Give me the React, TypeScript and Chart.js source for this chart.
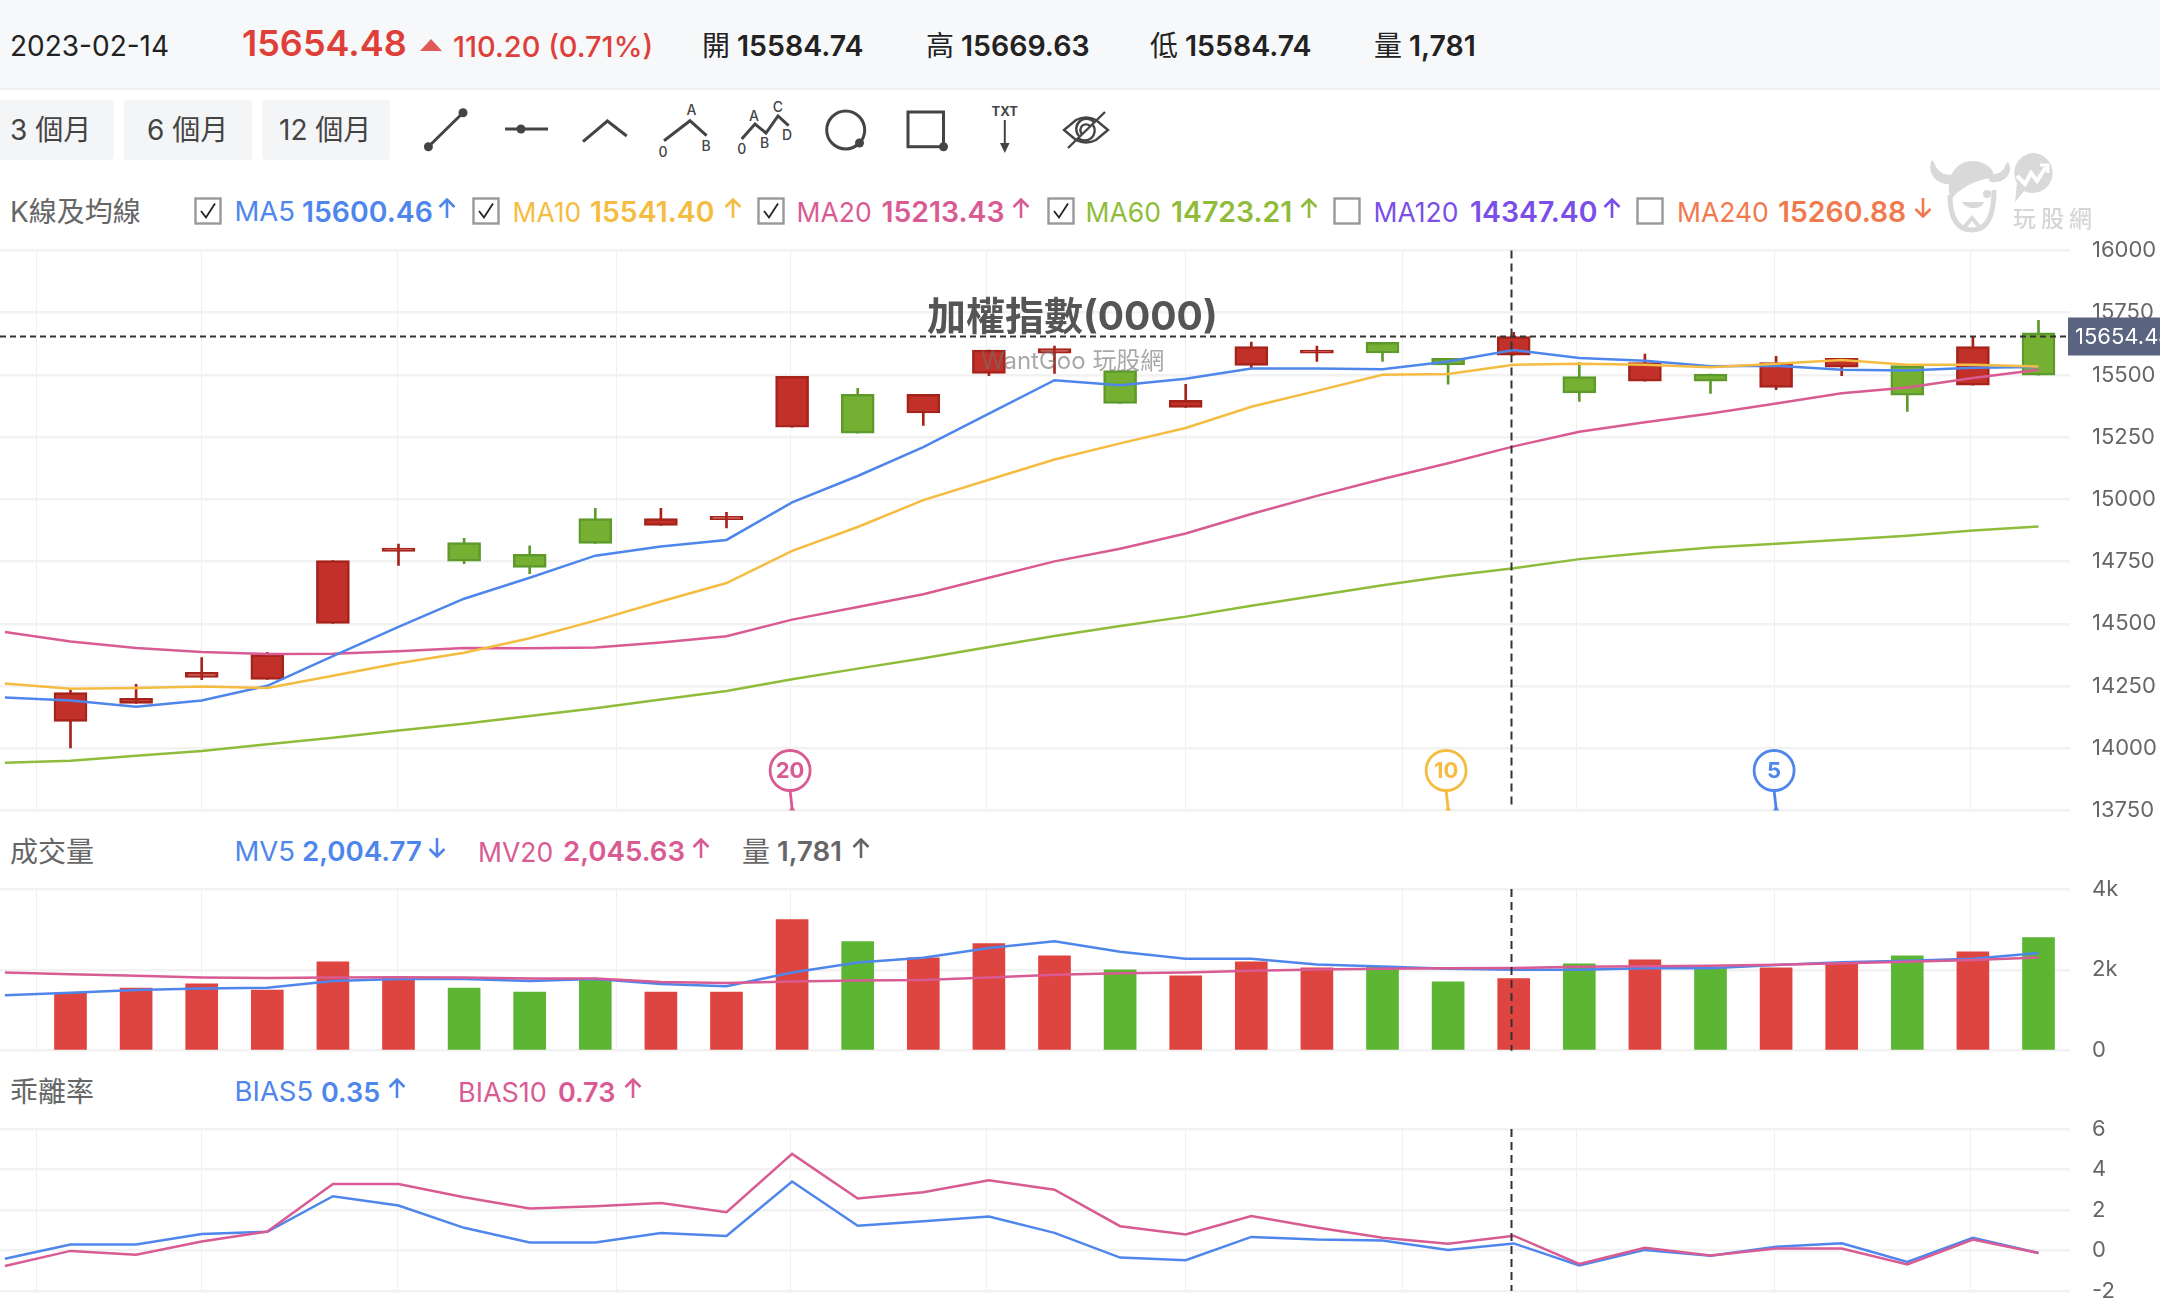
import React, { useEffect, useRef } from "react";
import { Chart, registerables } from "chart.js";

Chart.register(...registerables);

// ---------- data ----------
const quoteDate = "2023-02-14";
const quoteLast = 15654.48;
const quoteChange = "110.20 (0.71%)";
const quoteOpen = "15584.74";
const quoteHigh = "15669.63";
const quoteLow = "15584.74";
const quoteVol = "1,781";
const rangeButtons = ["3 個月", "6 個月", "12 個月"];

const opens = [14108, 14180, 14285, 14277, 14502, 14791, 14826, 14779, 14923, 14895, 14919, 15290, 15422, 15347, 15506, 15587, 15518, 15370, 15538, 15587, 15631, 15567, 15579, 15493, 15475, 15503, 15450, 15531, 15538, 15459, 15669];
const closes = [14224, 14201, 14305, 14376, 14754, 14804, 14752, 14727, 14823, 14923, 14932, 15494, 15266, 15422, 15600, 15606, 15386, 15398, 15614, 15600, 15588, 15540, 15654, 15428, 15550, 15475, 15550, 15567, 15419, 15614, 15499];
const highs = [14235, 14257, 14364, 14386, 14754, 14820, 14844, 14813, 14964, 14964, 14948, 15494, 15446, 15422, 15600, 15616, 15518, 15462, 15632, 15616, 15631, 15567, 15671, 15550, 15584, 15503, 15575, 15567, 15538, 15653, 15719];
const lows = [14001, 14180, 14276, 14277, 14502, 14735, 14742, 14702, 14823, 14895, 14885, 15290, 15266, 15297, 15497, 15506, 15386, 15370, 15528, 15554, 15554, 15463, 15579, 15394, 15475, 15426, 15441, 15497, 15353, 15459, 15499];

const ma5 = [14204, 14192, 14167, 14192, 14251, 14370, 14488, 14601, 14685, 14774, 14811, 14837, 14988, 15094, 15210, 15345, 15479, 15459, 15485, 15526, 15526, 15523, 15554, 15600, 15568, 15557, 15535, 15537, 15521, 15518, 15529, 15532];
const ma10 = [14260, 14239, 14242, 14248, 14242, 14291, 14342, 14384, 14442, 14513, 14590, 14664, 14793, 14889, 14997, 15079, 15160, 15225, 15287, 15372, 15436, 15501, 15504, 15541, 15545, 15541, 15531, 15545, 15560, 15541, 15541, 15534];
const ma20 = [14467, 14429, 14403, 14387, 14379, 14380, 14390, 14403, 14402, 14405, 14425, 14450, 14517, 14568, 14619, 14685, 14751, 14802, 14863, 14941, 15014, 15082, 15145, 15213, 15272, 15310, 15345, 15385, 15426, 15450, 15488, 15521];
const ma60 = [13942, 13950, 13970, 13989, 14016, 14042, 14071, 14099, 14130, 14161, 14196, 14230, 14277, 14320, 14362, 14407, 14451, 14491, 14529, 14573, 14614, 14655, 14692, 14723, 14760, 14785, 14807, 14822, 14838, 14854, 14875, 14891];

const volumes = [1436, 1552, 1652, 1502, 2200, 1801, 1552, 1452, 1751, 1452, 1452, 3245, 2698, 2299, 2648, 2349, 2000, 1851, 2200, 2050, 2083, 1701, 1781, 2150, 2249, 2050, 2050, 2150, 2349, 2448, 2797];
const mv5 = [1370, 1436, 1502, 1536, 1560, 1726, 1776, 1776, 1726, 1776, 1652, 1594, 1934, 2183, 2299, 2540, 2706, 2449, 2274, 2274, 2133, 2083, 2025, 2005, 2000, 2042, 2042, 2117, 2191, 2224, 2274, 2415];
const mv20 = [1934, 1892, 1851, 1809, 1801, 1809, 1818, 1809, 1785, 1785, 1702, 1677, 1710, 1735, 1751, 1809, 1876, 1917, 1934, 1975, 2009, 2025, 2042, 2046, 2075, 2092, 2100, 2125, 2166, 2200, 2241, 2307];

const bias5 = [-0.41, 0.3, 0.3, 0.82, 0.92, 2.68, 2.22, 1.12, 0.4, 0.4, 0.86, 0.72, 3.41, 1.22, 1.45, 1.68, 0.87, -0.35, -0.48, 0.67, 0.54, 0.49, 0.02, 0.35, -0.74, 0.03, -0.26, 0.18, 0.36, -0.56, 0.63, -0.12];
const bias10 = [-0.77, -0.02, -0.21, 0.44, 0.94, 3.28, 3.28, 2.63, 2.07, 2.19, 2.34, 1.89, 4.77, 2.57, 2.88, 3.47, 3.0, 1.2, 0.79, 1.7, 1.14, 0.63, 0.33, 0.73, -0.66, 0.13, -0.25, 0.1, 0.1, -0.69, 0.54, -0.12];

// fractional candle positions of the vertical grid lines
const gridPositions = [-0.518, 1.99, 4.98, 8.32, 10.98, 13.97, 16.99, 20.3, 22.96, 25.98, 28.96];
const crosshairIndex = 22;
const rollOffMarkers = [
  { index: 11, label: "20", color: "#d95b93" },
  { index: 21, label: "10", color: "#f5bc42" },
  { index: 26, label: "5", color: "#4f86ec" },
];

const BLUE = "#4f86ec";
const YELLOW = "#f5bc42";
const PINK = "#d95b93";
const LIME = "#8fbc3a";
const PURPLE = "#7a4fe8";
const ORANGE = "#f07a4e";

const FONT = '"Inter","Noto Sans CJK TC",sans-serif';
const CJK = '"Noto Sans CJK TC",sans-serif';

const X_MIN = -70.5 / 65.6;
const X_MAX = (2070 - 70.5) / 65.6;

const shifted = (arr: number[]) => arr.map((y, i) => ({ x: i - 1, y }));
const isUp = (i: number) => closes[i] >= opens[i];

function line(label: string, data: number[], color: string, order: number) {
  return {
    type: "line",
    label,
    data: shifted(data),
    borderColor: color,
    borderWidth: 2.5,
    pointRadius: 0,
    tension: 0,
    order,
  };
}

function baseOptions(yMin: number, yMax: number, step: number, pad: { top: number; bottom: number }, fmt?: (v: number) => string) {
  return {
    responsive: false,
    animation: false,
    events: [],
    devicePixelRatio: 1,
    layout: { padding: { top: pad.top, bottom: pad.bottom, left: 0, right: 0 } },
    plugins: { legend: { display: false }, tooltip: { enabled: false }, title: { display: false } },
    scales: {
      x: {
        type: "linear",
        offset: false,
        min: X_MIN,
        max: X_MAX,
        display: true,
        border: { display: false },
        afterBuildTicks: (axis: any) => {
          axis.ticks = gridPositions.map((value) => ({ value }));
        },
        afterFit: (axis: any) => {
          axis.height = 0;
          axis.paddingLeft = 0;
          axis.paddingRight = 0;
        },
        ticks: { display: false },
        grid: { color: "#f0f0f0", lineWidth: 1, drawTicks: false, offset: false },
      },
      y: {
        position: "right",
        min: yMin,
        max: yMax,
        border: { display: false },
        afterFit: (axis: any) => {
          axis.width = 90;
          axis.paddingTop = 0;
          axis.paddingBottom = 0;
        },
        ticks: {
          stepSize: step,
          padding: 22,
          color: "#666",
          font: { family: FONT, size: 22 },
          callback: (v: number) => (fmt ? fmt(v) : String(v)),
        },
        grid: { color: "#f2f2f2", lineWidth: 2.5, drawTicks: false },
      },
    },
  };
}

function drawCrosshair(chart: any, bottomInset: number) {
  const { ctx, chartArea, scales } = chart;
  const x = Math.round(scales.x.getPixelForValue(crosshairIndex)) - 2.5;
  ctx.save();
  ctx.strokeStyle = "#333";
  ctx.lineWidth = 2;
  ctx.setLineDash([8, 5]);
  ctx.beginPath();
  ctx.moveTo(x, chartArea.top);
  ctx.lineTo(x, chartArea.bottom - bottomInset);
  ctx.stroke();
  ctx.restore();
}

const crosshairPlugin = {
  id: "crosshairOnly",
  afterDatasetsDraw(chart: any) {
    drawCrosshair(chart, 0);
  },
};

const pricePlugin = {
  id: "priceOverlay",
  afterDatasetsDraw(chart: any) {
    const { ctx, chartArea, scales } = chart;
    drawCrosshair(chart, 6);
    const y = Math.round(scales.y.getPixelForValue(quoteLast)) + 0.5;
    ctx.save();
    ctx.strokeStyle = "#333";
    ctx.lineWidth = 2;
    ctx.setLineDash([6, 4]);
    ctx.beginPath();
    ctx.moveTo(0, y);
    ctx.lineTo(chartArea.right, y);
    ctx.stroke();
    ctx.setLineDash([]);
    rollOffMarkers.forEach((m) => {
      const cx = scales.x.getPixelForValue(m.index) - 2;
      const cy = chartArea.bottom - 40;
      ctx.strokeStyle = m.color;
      ctx.fillStyle = m.color;
      ctx.lineWidth = 2.8;
      ctx.beginPath();
      ctx.arc(cx, cy, 20, 0, Math.PI * 2);
      ctx.stroke();
      ctx.beginPath();
      ctx.moveTo(cx, cy + 20);
      ctx.lineTo(cx + 2, chartArea.bottom - 2);
      ctx.stroke();
      ctx.beginPath();
      ctx.moveTo(cx - 1, chartArea.bottom);
      ctx.lineTo(cx + 5, chartArea.bottom);
      ctx.lineTo(cx + 2, chartArea.bottom - 5);
      ctx.closePath();
      ctx.fill();
      ctx.font = `700 22px ${FONT}`;
      ctx.textAlign = "center";
      ctx.textBaseline = "middle";
      ctx.fillText(m.label, cx, cy + 1);
    });
    ctx.restore();
  },
  afterDraw(chart: any) {
    const { ctx, scales } = chart;
    const y = scales.y.getPixelForValue(quoteLast);
    ctx.save();
    ctx.fillStyle = "#5a6480";
    ctx.fillRect(2068, y - 19, 92, 38);
    ctx.fillStyle = "#fff";
    ctx.font = `22px ${FONT}`;
    ctx.textAlign = "left";
    ctx.textBaseline = "middle";
    ctx.fillText(quoteLast.toFixed(2), 2075, y + 1);
    ctx.restore();
  },
};

function priceConfig() {
  const idx = opens.map((_, i) => i);
  return {
    type: "bar",
    data: {
      datasets: [
        line("MA5", ma5, BLUE, 1),
        line("MA10", ma10, YELLOW, 0),
        line("MA20", ma20, PINK, 3),
        line("MA60", ma60, LIME, 4),
        {
          label: "body",
          data: idx.map((i) => ({ x: i, y: [opens[i], closes[i]] })),
          backgroundColor: idx.map((i) => (isUp(i) ? "#c1312a" : "#76b033")),
          borderColor: idx.map((i) => (isUp(i) ? "#a5231b" : "#5e9a2b")),
          borderWidth: 2.5,
          borderSkipped: false,
          barThickness: 33,
          grouped: false,
          order: 5,
        },
        {
          label: "wick",
          data: idx.map((i) => ({ x: i, y: [lows[i], highs[i]] })),
          backgroundColor: idx.map((i) => (isUp(i) ? "#a5231b" : "#5e9a2b")),
          barThickness: 2,
          grouped: false,
          order: 6,
        },
      ],
    },
    options: baseOptions(13750, 16000, 250, { top: 20.5, bottom: 19.5 }),
    plugins: [pricePlugin],
  };
}

function volumeConfig() {
  return {
    type: "bar",
    data: {
      datasets: [
        line("MV5", mv5, BLUE, 1),
        line("MV20", mv20, PINK, 0),
        {
          label: "volume",
          data: volumes.map((y, i) => ({ x: i, y })),
          backgroundColor: volumes.map((_, i) => (isUp(i) ? "#de4540" : "#5cb634")),
          barThickness: 32,
          grouped: false,
          order: 3,
        },
      ],
    },
    options: baseOptions(0, 4000, 2000, { top: 19, bottom: 19.3 }, (v) => (v === 0 ? "0" : `${v / 1000}k`)),
    plugins: [crosshairPlugin],
  };
}

function biasConfig() {
  return {
    type: "line",
    data: {
      datasets: [line("BIAS5", bias5, BLUE, 1), line("BIAS10", bias10, PINK, 0)],
    },
    options: baseOptions(-2, 6, 2, { top: 19, bottom: 21 }),
    plugins: [crosshairPlugin],
  };
}

function Panel({ top, height, config }: { top: number; height: number; config: () => any }) {
  const ref = useRef<HTMLCanvasElement | null>(null);
  useEffect(() => {
    const chart = new Chart(ref.current as any, config());
    return () => chart.destroy();
  }, []);
  return <canvas ref={ref} width={2160} height={height} style={{ position: "absolute", left: 0, top, width: 2160, height }} />;
}

function T({ x, y, size = 28, weight = 400, color = "#222", font = FONT, spacing = 0, children }: any) {
  return (
    <span
      style={{
        position: "absolute",
        left: x,
        top: y,
        transform: "translateY(-50%)",
        fontFamily: font,
        fontSize: size,
        fontWeight: weight,
        color,
        letterSpacing: spacing,
        whiteSpace: "nowrap",
        lineHeight: 1,
      }}
    >
      {children}
    </span>
  );
}

function Arrow({ x, y, up, color }: any) {
  const d = up ? "M10 20V2M2.5 9L10 1.5L17.5 9" : "M10 0V18M2.5 11L10 18.5L17.5 11";
  return (
    <svg width={20} height={20} style={{ position: "absolute", left: x, top: y - 10 }}>
      <path d={d} fill="none" stroke={color} strokeWidth={2.6} />
    </svg>
  );
}

function Check({ x, y, on }: any) {
  return (
    <svg width={28} height={29} style={{ position: "absolute", left: x, top: y - 14 }}>
      <rect x={1.5} y={1.5} width={25} height={25} fill="#fff" stroke="#999" strokeWidth={2.4} />
      {on ? <path d="M7 14L12 20.5L21 6.5" fill="none" stroke="#222" strokeWidth={1.8} /> : null}
    </svg>
  );
}

function Toolbar() {
  const s = { fill: "none", stroke: "#444", strokeWidth: 3 };
  const thin = { fill: "none", stroke: "#444", strokeWidth: 2.4 };
  const lab = { fontFamily: FONT, fontSize: 14, fontWeight: 500, fill: "#444", textAnchor: "middle" } as any;
  return (
    <svg width={1120} height={60} viewBox="0 100 1120 60" style={{ position: "absolute", left: 0, top: 100 }}>
      <path d="M428.4 146.7L463 112.7" {...s} />
      <circle cx={428.4} cy={146.7} r={4.5} fill="#444" />
      <circle cx={463} cy={112.7} r={4.5} fill="#444" />
      <path d="M505 129H548" {...s} />
      <circle cx={521} cy={129} r={4.5} fill="#444" />
      <path d="M583 141.7L607.4 121L626.7 136" {...s} />
      <path d="M664 140.7L690 120.7L706.6 135.7" {...s} />
      <text x={691.5} y={115} {...lab}>A</text>
      <text x={706} y={151} {...lab}>B</text>
      <text x={663} y={157} {...lab}>0</text>
      <path d="M741.7 139L755 124L766 133L778 116L788.6 125.7" {...s} />
      <text x={741.7} y={154} {...lab}>0</text>
      <text x={754} y={121} {...lab}>A</text>
      <text x={764.5} y={148} {...lab}>B</text>
      <text x={778} y={112} {...lab}>C</text>
      <text x={787} y={140} {...lab}>D</text>
      <circle cx={845.7} cy={130} r={19} {...s} />
      <circle cx={859.5} cy={143} r={4.5} fill="#444" />
      <rect x={908} y={112} width={35.5} height={34.7} {...s} />
      <circle cx={943.5} cy={146.7} r={4.5} fill="#444" />
      <text x={1004.8} y={116} fontFamily={FONT} fontSize={13} fontWeight={700} fill="#444" textAnchor="middle">TXT</text>
      <path d="M1004.8 120V146" fill="none" stroke="#444" strokeWidth={2} />
      <path d="M1000 143H1009.6L1004.8 153Z" fill="#444" />
      <path d="M1064 130L1076 120Q1086 115 1096 120L1108 130L1096 140Q1086 145 1076 140Z" {...thin} />
      <path d="M1068 148L1105 112" {...thin} />
      <path d="M1079 136A10 10 0 0 1 1094 122M1093 125A10 10 0 0 1 1078 138" {...thin} />
      <path d="M1082 134A5 5 0 0 1 1090 126" {...thin} />
    </svg>
  );
}

function Logo() {
  const g = "#d9d9d9";
  return (
    <svg width={175} height={95} viewBox="1925 145 175 95" style={{ position: "absolute", left: 1925, top: 145 }}>
      <path d="M2033 153A20 20 0 1 1 2024 191L2015 202L2017 183A20 20 0 0 1 2033 153Z" fill={g} />
      <path d="M2017 176L2025 184L2031 173L2037 181L2046 167" fill="none" stroke="#fff" strokeWidth={4} />
      <path d="M2040 165H2048V173" fill="none" stroke="#fff" strokeWidth={3} />
      <path d="M1932 160C1926 172 1936 186 1952 184L1956 174C1946 176 1938 174 1934 162Z" fill={g} />
      <path d="M2008 162C2014 172 2006 184 1990 182L1986 174C1996 176 2004 172 2006 164Z" fill={g} />
      <path d="M1950 195C1950 215 1955 230 1972 230C1989 230 1994 212 1994 190" fill="#fff" stroke={g} strokeWidth={5} />
      <path d="M1951 200C1944 178 1956 161 1972 161C1986 161 1995 170 1994 178C1982 178 1960 186 1951 200Z" fill={g} />
      <circle cx={1987} cy={194} r={4} fill={g} />
      <path d="M1962 202H1984C1982 210 1966 210 1962 202Z" fill={g} />
      <path d="M1962 230L1972 218L1982 230" fill="none" stroke={g} strokeWidth={4} />
      <text x={2013} y={227} fontFamily={CJK} fontSize={23} fontWeight={500} letterSpacing={5} fill="#d6d6d6">玩股網</text>
    </svg>
  );
}

export default function App() {
  const legendX = [194, 472, 757, 1047, 1333, 1636];
  const legendNameX = [234.5, 512.5, 796.5, 1085.5, 1373.5, 1677];
  const legendValX = [302, 590, 881.5, 1171, 1470, 1778];
  const legendArrowX = [437, 723, 1011, 1299, 1602, 1913];
  const legendNameSize = [27.5, 26.5, 26.5, 26.5, 26.5, 26.5];
  const legend = [
    ["MA5", "15600.46", true, BLUE, true],
    ["MA10", "15541.40", true, YELLOW, true],
    ["MA20", "15213.43", true, PINK, true],
    ["MA60", "14723.21", true, LIME, true],
    ["MA120", "14347.40", true, PURPLE, false],
    ["MA240", "15260.88", false, ORANGE, false],
  ] as any[];
  return (
    <div style={{ position: "fixed", left: 0, top: 0, width: 2160, height: 1312, background: "#fff", overflow: "hidden" }}>
      <div style={{ position: "absolute", left: 0, top: 0, width: 2160, height: 88, background: "#f7f8fa", borderBottom: "2px solid #eef0f3" }} />
      <T x={10} y={46} size={28} color="#222">{quoteDate}</T>
      <T x={242} y={43} size={36} weight={600} color="#de4039">{quoteLast.toFixed(2)}</T>
      <svg width={22} height={12} style={{ position: "absolute", left: 420, top: 39 }}><path d="M0 12L11 0L22 12Z" fill="#df5a58" /></svg>
      <T x={453} y={46} size={29} weight={500} color="#de4039">{quoteChange}</T>
      <T x={702} y={46} size={28} color="#222">開</T>
      <T x={737} y={46} size={28.5} weight={600} color="#222">{quoteOpen}</T>
      <T x={926} y={46} size={28} color="#222">高</T>
      <T x={961} y={46} size={28.5} weight={600} color="#222">{quoteHigh}</T>
      <T x={1150} y={46} size={28} color="#222">低</T>
      <T x={1185} y={46} size={28.5} weight={600} color="#222">{quoteLow}</T>
      <T x={1374} y={46} size={28} color="#222">量</T>
      <T x={1409} y={46} size={28.5} weight={600} color="#222">{quoteVol}</T>

      {[[-6, 120], [124, 128], [262, 128]].map(([x, w], i) => (
        <div key={i} style={{ position: "absolute", left: x, top: 100, width: w, height: 60, background: "#f4f5f7", borderRadius: 4 }} />
      ))}
      <T x={10} y={130} size={28} color="#444">{rangeButtons[0]}</T>
      <T x={147} y={130} size={28} color="#444">{rangeButtons[1]}</T>
      <T x={279} y={130} size={28} color="#444">{rangeButtons[2]}</T>
      <Toolbar />

      <T x={10} y={212} size={28} color="#666">K線及均線</T>
      {legend.map((l, i) => (
        <React.Fragment key={l[0]}>
          <Check x={legendX[i]} y={211} on={l[4]} />
          <T x={legendNameX[i]} y={212} size={legendNameSize[i]} color={l[3]}>{l[0]}</T>
          <T x={legendValX[i]} y={212} size={28.4} weight={600} color={l[3]}>{l[1]}</T>
          <Arrow x={legendArrowX[i]} y={208} up={l[2]} color={l[3]} />
        </React.Fragment>
      ))}

      <Panel top={230} height={600} config={priceConfig} />
      <Panel top={870} height={200} config={volumeConfig} />
      <Panel top={1110} height={202} config={biasConfig} />
      <Logo />

      <T x={927} y={315} size={39} weight={700} color="#555">加權指數(0000)</T>
      <T x={981} y={361} size={24} color="rgba(110,110,110,0.6)">WantGoo 玩股網</T>

      <T x={10} y={852} size={28} color="#666">成交量</T>
      <T x={234.5} y={852} size={27.5} color={BLUE}>MV5</T>
      <T x={302} y={852} size={27.7} weight={600} color={BLUE}>2,004.77</T>
      <Arrow x={427} y={848} up={false} color={BLUE} />
      <T x={478} y={852} size={26.5} color={PINK}>MV20</T>
      <T x={563} y={852} size={27.7} weight={600} color={PINK}>2,045.63</T>
      <Arrow x={691} y={848} up={true} color={PINK} />
      <T x={742} y={852} size={28} color="#666">量</T>
      <T x={777} y={852} size={27.7} weight={600} color="#666">1,781</T>
      <Arrow x={851} y={848} up={true} color="#666" />

      <T x={10} y={1092} size={28} color="#666">乖離率</T>
      <T x={234.5} y={1092} size={27.5} color={BLUE}>BIAS5</T>
      <T x={321} y={1092} size={27} weight={600} color={BLUE}>0.35</T>
      <Arrow x={387} y={1088} up={true} color={BLUE} />
      <T x={458} y={1092} size={27} color={PINK}>BIAS10</T>
      <T x={558} y={1092} size={27} weight={600} color={PINK}>0.73</T>
      <Arrow x={623} y={1088} up={true} color={PINK} />
    </div>
  );
}
